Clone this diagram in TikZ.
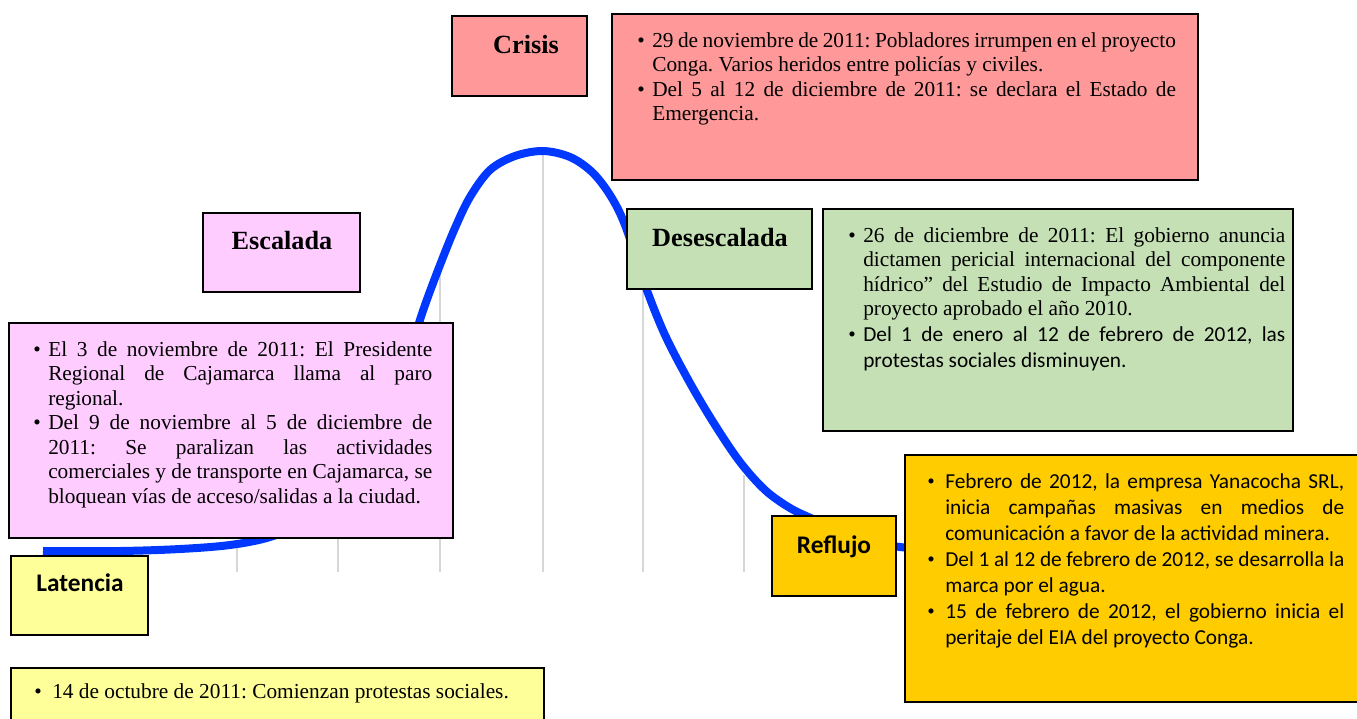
\documentclass[tikz,border=0pt]{standalone}
\usepackage{fontspec}
\setmainfont{Liberation Serif}
\newfontfamily\calibri{Carlito}
\definecolor{crisisred}{RGB}{255,153,153}
\definecolor{escpink}{RGB}{255,204,255}
\definecolor{desgreen}{RGB}{197,224,180}
\definecolor{refgold}{RGB}{255,204,0}
\definecolor{latyellow}{RGB}{255,255,153}
\definecolor{curveblue}{RGB}{0,56,255}
\definecolor{gridgray}{RGB}{215,215,215}
\newcommand{\bitem}[2][11.25pt]{\par\hangindent=#1\hangafter=1\noindent\hbox to #1{\rmfamily\textbullet\hfil}#2\par}
\newcommand{\bodytext}[2]{\parbox[t]{#1}{\fontsize{16}{18.4}\selectfont\frenchspacing\tolerance=10000\hbadness=10000\parfillskip=0pt plus 1fil\relax #2}}
\newcommand{\sanstext}{\calibri\fontsize{16}{19.5}\selectfont}
\tikzset{
  box/.style={draw=black, line width=1.5pt, inner sep=0pt, outer sep=0pt, anchor=north west},
  lab/.style={anchor=base, inner sep=0pt, font=\fontsize{19.7}{23}\selectfont\bfseries},
  labsans/.style={anchor=base, inner sep=0pt, font=\calibri\fontsize{19}{22}\selectfont\bfseries},
  txt/.style={anchor=base west, inner sep=0pt},
  gridline/.style={draw=gridgray, line width=2.2pt},
  bell/.style={draw=curveblue, line width=6pt}
}
\newcommand{\boxnode}[6]{%
  \pgfmathsetlengthmacro\bw{(#4-#2)*0.75pt}%
  \pgfmathsetlengthmacro\bh{(#5-#3)*0.75pt}%
  \node[box, fill=#6, minimum width=\bw, minimum height=\bh] (#1) at (#2,#3) {};}
\begin{document}
\begin{tikzpicture}[x=0.75pt,y=-0.75pt]
\useasboundingbox (0,0) rectangle (1357,718);
% grid lines
\draw[gridline] (237,546) -- (237,572);
\draw[gridline] (338,505) -- (338,572);
\draw[gridline] (440,268) -- (440,572);
\draw[gridline] (543,152) -- (543,572);
\draw[gridline] (643,280) -- (643,572);
\draw[gridline] (744,475) -- (744,572);
% bell curve
\draw[bell] plot[smooth, tension=0.55] coordinates {(43,551) (120,551) (180,549) (230,545) (270,537) (310,520) (350,485) (385,420) (410,350) (425,305) (440,265) (455,228) (470,197) (490,170) (515,156) (543,151) (570,157) (592,172) (610,195) (625,225) (645,285) (665,335) (690,383) (715,425) (740,462) (765,490) (790,508) (815,520) (850,536) (900,547) (960,550)};
% boxes
\boxnode{crisis}{452}{16}{587}{96}{crisisred}
\boxnode{crisisbox}{612}{14}{1198}{180}{crisisred}
\boxnode{escalada}{203}{213}{360}{292}{escpink}
\boxnode{escbox}{9}{323}{453}{538}{escpink}
\boxnode{desescalada}{627}{209}{812}{289}{desgreen}
\boxnode{desbox}{823}{209}{1293}{431}{desgreen}
\boxnode{reflujo}{772}{516}{896}{596}{refgold}
\boxnode{refbox}{905}{455}{1362}{702}{refgold}
\boxnode{latencia}{11}{556}{148}{635}{latyellow}
\boxnode{latbox}{11}{668}{544}{730}{latyellow}
% labels
\node[lab] (crisislab) at (526,53) {Crisis};
\node[lab] (escalab) at (282,249) {Escalada};
\node[lab] (deslab) at (720,246) {Desescalada};
\node[labsans] (reflab) at (834,553) {Reflujo};
\node[labsans] (latlab) at (80,591) {Latencia};
% texts
\node[txt] (crisistext) at (637,47) {\bodytext{404pt}{%
\bitem{29 de noviembre de 2011: Pobladores irrumpen en el proyecto\linebreak Conga. Varios heridos entre policías y civiles.}%
\bitem{Del 5 al 12 de diciembre de 2011: se declara el Estado de\linebreak Emergencia.}}};
\node[txt] (esctext) at (33,356) {\bodytext{299.25pt}{%
\bitem{El 3 de noviembre de 2011: El Presidente\linebreak Regional de Cajamarca llama al paro\linebreak regional.}%
\bitem{Del 9 de noviembre al 5 de diciembre de\linebreak 2011: Se paralizan las actividades\linebreak comerciales y de transporte en Cajamarca, se\linebreak bloquean vías de acceso/salidas a la ciudad.}}};
\node[txt] (destext) at (848,242) {\bodytext{327.75pt}{%
\bitem{26 de diciembre de 2011: El gobierno anuncia\linebreak dictamen pericial internacional del componente\linebreak hídrico” del Estudio de Impacto Ambiental del\linebreak proyecto aprobado el año 2010.}%
\bitem{\sanstext Del 1 de enero al 12 de febrero de 2012, las\linebreak protestas sociales disminuyen.}}};
\node[txt] (reftext) at (927,488) {\bodytext{312.75pt}{\sanstext
\bitem[13.5pt]{Febrero de 2012, la empresa Yanacocha SRL,\linebreak inicia campañas masivas en medios de\linebreak comunicación a favor de la actividad minera.}%
\bitem[13.5pt]{Del 1 al 12 de febrero de 2012, se desarrolla la\linebreak marca por el agua.}%
\bitem[13.5pt]{15 de febrero de 2012, el gobierno inicia el\linebreak peritaje del EIA del proyecto Conga.}}};
\node[txt] (lattext) at (34,698) {\bodytext{380pt}{%
\bitem[13.5pt]{14 de octubre de 2011: Comienzan protestas sociales.}}};
\end{tikzpicture}
\end{document}
